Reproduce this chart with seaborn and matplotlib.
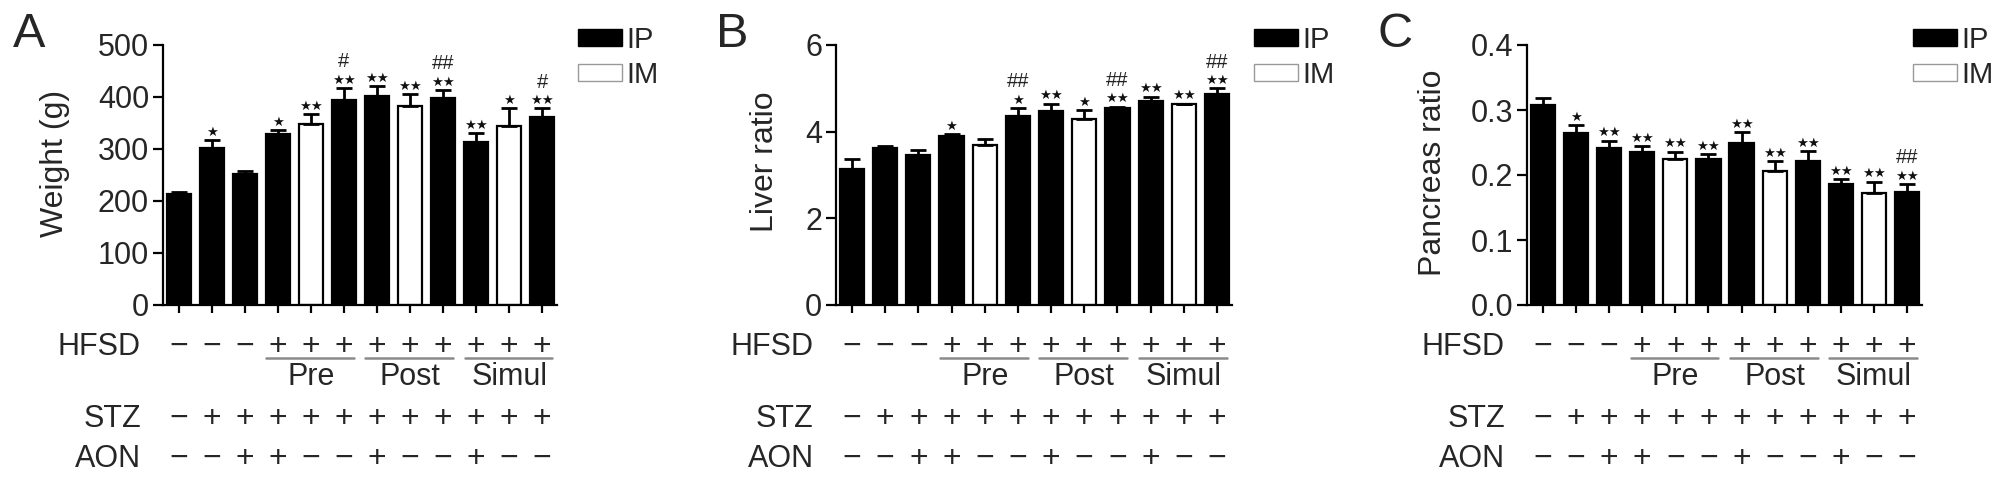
import matplotlib

matplotlib.use("Agg")

import matplotlib.pyplot as plt
import numpy as np
import pandas as pd
import seaborn as sns
from matplotlib.patches import Patch

# bar order: 12 groups, IP = black, IM = white
routes = ["IP", "IP", "IP", "IP", "IM", "IP", "IP", "IM", "IP", "IP", "IM", "IP"]
hfsd = ["−", "−", "−", "+", "+", "+", "+", "+", "+", "+", "+", "+"]
stz = ["−", "+", "+", "+", "+", "+", "+", "+", "+", "+", "+", "+"]
aon = ["−", "−", "+", "+", "−", "−", "+", "−", "−", "+", "−", "−"]
timing_groups = ["Pre", "Post", "Simul"]
timing_span = [(3, 5), (6, 8), (9, 11)]

weight_mean = [213, 301, 252, 329, 349, 394, 402, 383, 399, 314, 345, 362]
weight_sem = [5, 16, 6, 8, 18, 24, 19, 22, 14, 17, 33, 16]
weight_stars = ["", "*", "", "*", "**", "**", "**", "**", "**", "**", "*", "**"]
weight_hash = ["", "", "", "", "", "#", "", "", "##", "", "", "#"]

liver_mean = [3.15, 3.63, 3.46, 3.90, 3.69, 4.36, 4.48, 4.29, 4.54, 4.71, 4.63, 4.86]
liver_sem = [0.23, 0.04, 0.12, 0.04, 0.13, 0.18, 0.17, 0.21, 0.04, 0.10, 0.02, 0.14]
liver_stars = ["", "", "", "*", "", "*", "**", "*", "**", "**", "**", "**"]
liver_hash = ["", "", "", "", "", "##", "", "", "##", "", "", "##"]

pancreas_mean = [0.308, 0.265, 0.241, 0.235, 0.225, 0.224, 0.250, 0.206, 0.221, 0.186, 0.173, 0.174]
pancreas_sem = [0.010, 0.012, 0.012, 0.010, 0.011, 0.008, 0.016, 0.016, 0.016, 0.008, 0.017, 0.012]
pancreas_stars = ["", "*", "**", "**", "**", "**", "**", "**", "**", "**", "**", "**"]
pancreas_hash = ["", "", "", "", "", "", "", "", "", "", "", "##"]

sns.set_theme(style="ticks")
plt.rcParams["font.family"] = ["Liberation Sans", "DejaVu Sans"]

FW, FH = 2008, 480
fig = plt.figure(figsize=(FW / 100, FH / 100), dpi=100)


def draw_panel(left_px, right_px, letter, letter_x, means, sems, stars, hashes,
               ylim, yticks, yfmt, ylabel, ylabel_x, ylabel_y, legend_x):
    ax = fig.add_axes([left_px / FW, (FH - 305) / FH, (right_px - left_px) / FW, 260 / FH])
    df = pd.DataFrame({"group": range(12), "value": means, "route": routes})
    sns.barplot(
        data=df, x="group", y="value", hue="route",
        palette={"IP": "black", "IM": "white"}, dodge=False, width=0.73,
        edgecolor="black", linewidth=1.6, saturation=1, errorbar=None,
        legend=False, ax=ax,
    )
    x = np.arange(12)
    ax.errorbar(x, means, yerr=[np.zeros(12), sems], fmt="none", ecolor="black",
                elinewidth=2, capsize=6, capthick=2, zorder=3)

    tops = np.array(means) + np.array(sems)
    for i in range(12):
        if stars[i]:
            ax.annotate("★" * len(stars[i]), xy=(i, tops[i]), xytext=(0, 3),
                        textcoords="offset points", ha="center", va="baseline",
                        fontsize=9.5, color="#111111")
        if hashes[i]:
            ax.annotate(hashes[i], xy=(i, tops[i]), xytext=(0, 15),
                        textcoords="offset points", ha="center", va="baseline",
                        fontsize=14.5, color="#222222")

    ax.set_xlim(-0.48, 11.45)
    ax.set_ylim(*ylim)
    ax.set_yticks(yticks)
    ax.set_yticklabels([yfmt.format(t) for t in yticks])
    ax.set_xticks(x)
    ax.set_xticklabels([])
    ax.set_xlabel("")
    ax.set_ylabel(ylabel, fontsize=23)
    ax.yaxis.set_label_coords(ylabel_x, ylabel_y)
    sns.despine(ax=ax)
    for side in ["left", "bottom"]:
        ax.spines[side].set_linewidth(1.6)
        ax.spines[side].set_color("black")
    ax.tick_params(axis="both", direction="out", length=7, width=1.6,
                   color="black", labelsize=22, pad=3)
    ax.tick_params(axis="x", length=6)

    # treatment table under the bars
    xt = ax.get_xaxis_transform()
    for label, row, yb in [("HFSD", hfsd, -0.192), ("STZ", stz, -0.469), ("AON", aon, -0.623)]:
        ax.text(-0.056, yb, label, transform=ax.transAxes, ha="right", va="baseline",
                fontsize=22, clip_on=False)
        for i, sign in enumerate(row):
            ax.text(i, yb, sign, transform=xt, ha="center", va="baseline",
                    fontsize=23, clip_on=False)
    for name, (s, e) in zip(timing_groups, timing_span):
        ax.plot([s - 0.35, e + 0.3], [-0.205, -0.205], transform=xt, clip_on=False,
                color="#8a8a8a", lw=1.8)
        ax.text((s + e) / 2, -0.308, name, transform=xt, ha="center", va="baseline",
                fontsize=22, clip_on=False)

    handles = [Patch(facecolor="black", edgecolor="black", label="IP"),
               Patch(facecolor="white", edgecolor="#999999", label="IM")]
    ax.legend(handles=handles, loc="upper left", bbox_to_anchor=(legend_x, 1.075),
              frameon=False, fontsize=21, handlelength=1.5, handleheight=0.52,
              handletextpad=0.15, labelspacing=0.25, borderpad=0, borderaxespad=0)

    fig.text(letter_x / FW, 1 - 12 / FH, letter, ha="left", va="top", fontsize=35)
    return ax


draw_panel(163, 557, "A", 13, weight_mean, weight_sem, weight_stars, weight_hash,
           (0, 500), [0, 100, 200, 300, 400, 500], "{:.0f}", "Weight (g)",
           -0.236, 0.546, 1.053)
draw_panel(836, 1232, "B", 716, liver_mean, liver_sem, liver_stars, liver_hash,
           (0, 6), [0, 2, 4, 6], "{:.0f}", "Liver ratio",
           -0.141, 0.55, 1.056)
draw_panel(1527, 1922, "C", 1378, pancreas_mean, pancreas_sem, pancreas_stars, pancreas_hash,
           (0, 0.4), [0.0, 0.1, 0.2, 0.3, 0.4], "{:.1f}", "Pancreas ratio",
           -0.2, 0.51, 0.977)

fig.savefig("out.png", dpi=100)
plt.close(fig)
